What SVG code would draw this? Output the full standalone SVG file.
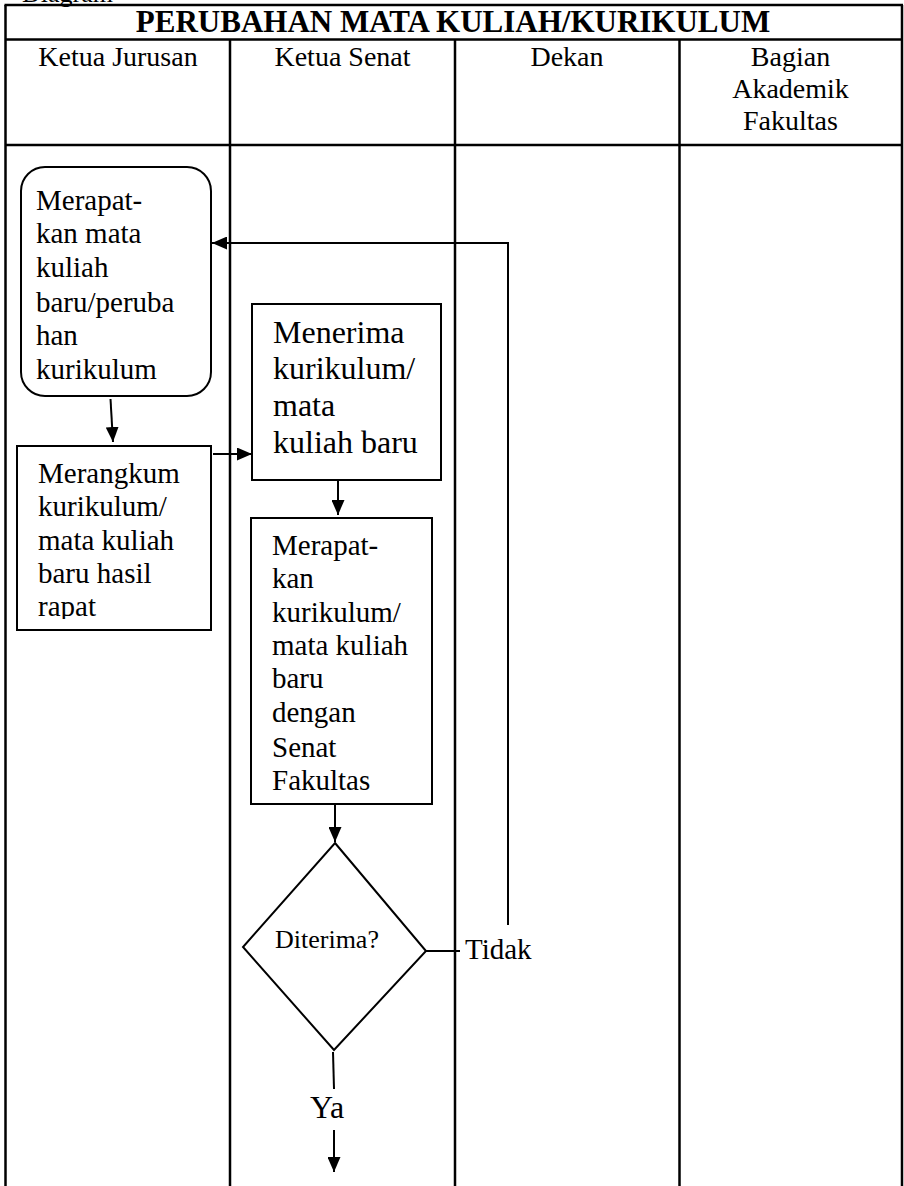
<svg xmlns="http://www.w3.org/2000/svg" width="904" height="1186" viewBox="0 0 904 1186">
  <style>
    text { font-family: "Liberation Serif", "Times New Roman", serif; fill: #000; }
    .title { font-size: 31px; font-weight: bold; text-anchor: middle; }
    .lane-head { font-size: 28px; text-anchor: middle; }
    .body { font-size: 29px; }
    .big { font-size: 32px; }
    .small { font-size: 26px; }
    .grid { stroke: #000; stroke-width: 2.5; fill: none; }
    .box { stroke: #000; stroke-width: 2; fill: #fff; }
    .wire { stroke: #000; stroke-width: 2; fill: none; }
    .arrow { marker-end: url(#head); }
  </style>
  <defs>
    <marker id="head" viewBox="0 0 15 13" refX="15" refY="6.5" markerWidth="15" markerHeight="13" markerUnits="userSpaceOnUse" orient="auto">
      <path d="M0,0 L15,6.5 L0,13 z" fill="#000"/>
    </marker>
    <clipPath id="clip-summary">
      <rect x="17" y="446" width="194" height="173"/>
    </clipPath>
  </defs>

  <rect width="904" height="1186" fill="#fff"/>

  <!-- caption line above the table, mostly cut off by the top edge -->
  <text x="22" y="2" class="small">Diagram</text>

  <!-- swimlane table -->
  <g id="table">
    <line class="grid" x1="5.5" y1="5" x2="5.5" y2="1186"/>
    <line class="grid" x1="902" y1="5" x2="902" y2="1186"/>
    <line class="grid" x1="4.5" y1="5" x2="903" y2="5"/>
    <line class="grid" x1="5" y1="39.5" x2="902" y2="39.5"/>
    <line class="grid" x1="5" y1="145" x2="902" y2="145"/>
    <line class="grid" x1="230" y1="39.5" x2="230" y2="1186"/>
    <line class="grid" x1="455" y1="39.5" x2="455" y2="1186"/>
    <line class="grid" x1="679.5" y1="39.5" x2="679.5" y2="1186"/>
    <text class="title" x="453" y="32">PERUBAHAN MATA KULIAH/KURIKULUM</text>
    <text class="lane-head" x="118" y="66">Ketua Jurusan</text>
    <text class="lane-head" x="342.5" y="66">Ketua Senat</text>
    <text class="lane-head" x="567" y="66">Dekan</text>
    <text class="lane-head" x="790.5" y="66">Bagian</text>
    <text class="lane-head" x="790.5" y="98">Akademik</text>
    <text class="lane-head" x="790.5" y="130">Fakultas</text>
  </g>

  <!-- connectors -->
  <g id="connectors">
    <line class="wire arrow" x1="110.5" y1="399" x2="113" y2="442"/>
    <line class="wire arrow" x1="213" y1="454" x2="252" y2="454"/>
    <line class="wire arrow" x1="338" y1="480" x2="338" y2="515"/>
    <line class="wire arrow" x1="335" y1="804" x2="335" y2="842"/>
    <line class="wire" x1="426" y1="951" x2="460" y2="951"/>
    <polyline class="wire arrow" points="508,925 508,243 212,243"/>
    <line class="wire" x1="333" y1="1052" x2="334" y2="1089"/>
    <line class="wire arrow" x1="334" y1="1130" x2="334" y2="1172"/>
    <text class="body" x="465" y="959">Tidak</text>
    <text class="big" x="310" y="1118">Ya</text>
  </g>

  <g id="rapat-jurusan">
    <rect class="box" x="21" y="167" width="190" height="229" rx="24" ry="24"/>
    <text class="body" x="36" y="210">Merapat-</text>
    <text class="body" x="36" y="243">kan mata</text>
    <text class="body" x="36" y="277">kuliah</text>
    <text class="body" x="36" y="312">baru/peruba</text>
    <text class="body" x="36" y="345">han</text>
    <text class="body" x="36" y="379">kurikulum</text>
  </g>

  <g id="rangkum">
    <rect class="box" x="17" y="446" width="194" height="184" stroke-width="2.5"/>
    <g clip-path="url(#clip-summary)">
      <text class="body" x="38" y="483">Merangkum</text>
      <text class="body" x="38" y="516">kurikulum/</text>
      <text class="body" x="38" y="550">mata kuliah</text>
      <text class="body" x="38" y="583">baru hasil</text>
      <text class="body" x="38" y="616">rapat</text>
    </g>
  </g>

  <g id="terima">
    <rect class="box" x="252" y="304" width="189" height="176"/>
    <text class="big" x="273" y="343">Menerima</text>
    <text class="big" x="273" y="379">kurikulum/</text>
    <text class="big" x="273" y="416">mata</text>
    <text class="big" x="273" y="453">kuliah baru</text>
  </g>

  <g id="rapat-senat">
    <rect class="box" x="251" y="518" width="181" height="286"/>
    <text class="body" x="272" y="555">Merapat-</text>
    <text class="body" x="272" y="588">kan</text>
    <text class="body" x="272" y="622">kurikulum/</text>
    <text class="body" x="272" y="655">mata kuliah</text>
    <text class="body" x="272" y="688">baru</text>
    <text class="body" x="272" y="722">dengan</text>
    <text class="body" x="272" y="757">Senat</text>
    <text class="body" x="272" y="790">Fakultas</text>
  </g>

  <g id="keputusan">
    <polygon class="box" points="335,843 426,951 334,1050 243,947"/>
    <text class="small" x="275" y="948">Diterima?</text>
  </g>
</svg>
